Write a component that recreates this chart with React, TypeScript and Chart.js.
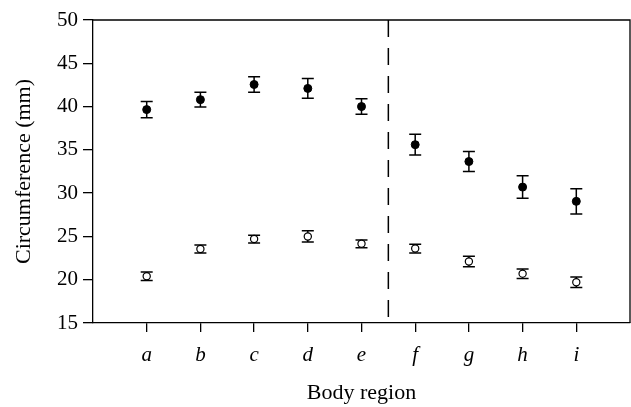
import React, { useEffect, useRef } from "react";
import { Chart, registerables } from "chart.js";

Chart.register(...registerables);

const categories = ["a", "b", "c", "d", "e", "f", "g", "h", "i"];
const filledMean = [39.65, 40.8, 42.55, 42.1, 40.0, 35.6, 33.65, 30.7, 29.05];
const filledErr = [0.95, 0.85, 0.9, 1.15, 0.9, 1.2, 1.15, 1.3, 1.45];
const openMean = [20.4, 23.55, 24.7, 25.0, 24.15, 23.6, 22.1, 20.7, 19.7];
const openErr = [0.5, 0.45, 0.45, 0.65, 0.45, 0.5, 0.6, 0.55, 0.6];
const dividerX = 5.5;
const yTicks = [15, 20, 25, 30, 35, 40, 45, 50];

const FONT = "'Liberation Serif', 'Times New Roman', serif";

const errorBarPlugin = {
  id: "errorBars",
  beforeDatasetsDraw(chart: any) {
    const ctx = chart.ctx;
    const xs = chart.scales.x;
    const ys = chart.scales.y;
    ctx.save();
    ctx.strokeStyle = "#000";
    ctx.lineWidth = 1.5;
    chart.data.datasets.forEach((ds: any) => {
      if (!ds.errors) return;
      ds.data.forEach((p: any, i: number) => {
        const e = ds.errors[i];
        const px = xs.getPixelForValue(p.x);
        const top = ys.getPixelForValue(p.y + e);
        const bot = ys.getPixelForValue(p.y - e);
        ctx.beginPath();
        ctx.moveTo(px, top);
        ctx.lineTo(px, bot);
        ctx.moveTo(px - 6, top);
        ctx.lineTo(px + 6, top);
        ctx.moveTo(px - 6, bot);
        ctx.lineTo(px + 6, bot);
        ctx.stroke();
      });
    });
    ctx.restore();
  },
};

const framePlugin = {
  id: "frame",
  afterDraw(chart: any) {
    const { left, right, top, bottom } = chart.chartArea;
    const ctx = chart.ctx;
    ctx.save();
    ctx.strokeStyle = "#000";
    ctx.lineWidth = 1.3;
    ctx.beginPath();
    ctx.moveTo(left, top);
    ctx.lineTo(right, top);
    ctx.lineTo(right, bottom);
    ctx.stroke();
    ctx.restore();
  },
};

export default function App() {
  const ref = useRef<HTMLCanvasElement | null>(null);

  useEffect(() => {
    if (!ref.current) return;
    const chart = new Chart(ref.current, {
      type: "scatter",
      data: {
        datasets: [
          {
            label: "divider",
            type: "line",
            data: [
              { x: dividerX, y: 50 },
              { x: dividerX, y: 15 },
            ],
            showLine: true,
            borderColor: "#000",
            borderWidth: 1.5,
            borderDash: [17, 11],
            pointRadius: 0,
            fill: false,
          } as any,
          {
            label: "filled",
            data: categories.map((_, i) => ({ x: i + 1, y: filledMean[i] })),
            errors: filledErr,
            pointRadius: 4,
            pointBackgroundColor: "#000",
            pointBorderColor: "#000",
            pointBorderWidth: 1,
          } as any,
          {
            label: "open",
            data: categories.map((_, i) => ({ x: i + 1, y: openMean[i] })),
            errors: openErr,
            pointRadius: 3.6,
            pointBackgroundColor: "#fff",
            pointBorderColor: "#000",
            pointBorderWidth: 1.2,
          } as any,
        ],
      },
      options: {
        responsive: false,
        animation: false,
        devicePixelRatio: 1,
        layout: { autoPadding: false, padding: { top: 20, right: 1, left: 0, bottom: 0 } },
        plugins: {
          legend: { display: false },
          tooltip: { enabled: false },
        },
        scales: {
          x: {
            type: "linear",
            min: 0,
            max: 10,
            afterBuildTicks: (scale: any) => {
              scale.ticks = categories.map((_, i) => ({ value: i + 1 }));
            },
            afterFit: (scale: any) => {
              scale.height = 84;
            },
            grid: {
              drawOnChartArea: false,
              drawTicks: true,
              tickLength: 9,
              color: "#000",
              lineWidth: 1.3,
            },
            border: { display: true, color: "#000", width: 1.3 },
            ticks: {
              autoSkip: false,
              maxRotation: 0,
              padding: 11,
              color: "#000",
              font: { family: FONT, size: 21, style: "italic" },
              callback: (v: any) => categories[Math.round(v) - 1] ?? "",
            },
            title: {
              display: true,
              text: "Body region",
              color: "#000",
              font: { family: FONT, size: 22 },
              padding: { top: 0, bottom: 1 },
            },
          },
          y: {
            type: "linear",
            min: 15,
            max: 50,
            afterBuildTicks: (scale: any) => {
              scale.ticks = yTicks.map((v) => ({ value: v }));
            },
            afterFit: (scale: any) => {
              scale.width = 93;
            },
            grid: {
              drawOnChartArea: false,
              drawTicks: true,
              tickLength: 10,
              color: "#000",
              lineWidth: 1.3,
            },
            border: { display: true, color: "#000", width: 1.3 },
            ticks: {
              padding: 5,
              color: "#000",
              font: { family: FONT, size: 21 },
            },
            title: {
              display: true,
              text: "Circumference (mm)",
              color: "#000",
              font: { family: FONT, size: 22 },
              padding: { top: 11, bottom: 0 },
            },
          },
        },
      },
      plugins: [errorBarPlugin, framePlugin],
    });
    return () => chart.destroy();
  }, []);

  return (
    <div style={{ position: "absolute", left: 0, top: 0, width: 631, height: 407, background: "#fff" }}>
      <canvas ref={ref} width={631} height={407} />
    </div>
  );
}
